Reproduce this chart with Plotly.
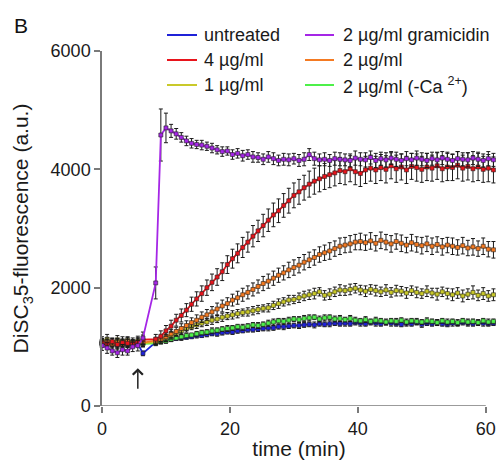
import plotly.graph_objects as go

# ---------------- data ----------------
PRE_TIME = [0.0, 0.8, 1.6, 2.4, 3.2, 4.0, 4.8, 5.6, 6.4]
POST_TIME = [8.4, 9.2, 10.0, 10.8, 11.6, 12.4, 13.2, 14.0, 14.8, 15.6,
             16.4, 17.2, 18.0, 18.8, 19.6, 20.4, 21.2, 22.0, 22.8, 23.6,
             24.4, 25.2, 26.0, 26.8, 27.6, 28.4, 29.2, 30.0, 30.8, 31.6,
             32.4, 33.2, 34.0, 34.8, 35.6, 36.4, 37.2, 38.0, 38.8, 39.6,
             40.4, 41.2, 42.0, 42.8, 43.6, 44.4, 45.2, 46.0, 46.8, 47.6,
             48.4, 49.2, 50.0, 50.8, 51.6, 52.4, 53.2, 54.0, 54.8, 55.6,
             56.4, 57.2, 58.0, 58.8, 59.6, 60.4, 61.2]

UNTREATED_PRE = [1050, 1040, 1060, 1030, 1050, 1040, 1060, 1050, 890]
UNTREATED_POST = [1080, 1100, 1110, 1120, 1140, 1150, 1160, 1170, 1190, 1190,
                  1210, 1220, 1220, 1240, 1250, 1250, 1270, 1270, 1290, 1290,
                  1300, 1310, 1320, 1320, 1340, 1340, 1350, 1360, 1360, 1370,
                  1380, 1370, 1390, 1380, 1390, 1400, 1390, 1400, 1390, 1410,
                  1400, 1390, 1410, 1400, 1390, 1410, 1400, 1390, 1380, 1400,
                  1390, 1410, 1380, 1400, 1390, 1410, 1390, 1380, 1400, 1390,
                  1410, 1400, 1390, 1410, 1400, 1390, 1400]
UNTREATED_ERR = [40, 50, 40, 50, 40, 50, 40, 50, 40,
                 30, 30, 40, 30, 30, 40, 30, 30, 40, 30,
                 40, 30, 40, 40, 30, 40, 40, 30, 40, 40,
                 40, 40, 50, 40, 40, 50, 40, 40, 50, 40,
                 40, 50, 40, 40, 50, 40, 40, 50, 40, 40,
                 50, 40, 40, 50, 40, 40, 50, 40, 40, 50,
                 40, 40, 50, 40, 40, 50, 40, 40, 50, 40,
                 40, 50, 40, 40, 50, 40, 40]

GRAM_PRE = [1020, 980, 930, 900, 950, 930, 1000, 1020, 1150]
GRAM_POST = [2080, 4580, 4700, 4650, 4600, 4540, 4480, 4440, 4420, 4410,
             4390, 4360, 4330, 4300, 4310, 4250, 4270, 4230, 4250, 4210,
             4200, 4170, 4210, 4180, 4150, 4170, 4160, 4180, 4150, 4170,
             4250, 4180, 4160, 4170, 4150, 4180, 4170, 4160, 4150, 4190,
             4170, 4160, 4200, 4150, 4180, 4160, 4190, 4170, 4150, 4180,
             4160, 4190, 4170, 4150, 4180, 4160, 4190, 4170, 4150, 4180,
             4170, 4160, 4190, 4170, 4150, 4180, 4160]
GRAM_ERR = [80, 90, 70, 80, 90, 70, 80, 90, 100,
            270, 440, 250, 110, 90, 80, 80, 80, 70, 80,
            70, 80, 70, 80, 70, 80, 80, 90, 80, 90,
            80, 90, 90, 100, 90, 100, 100, 90, 100, 110,
            100, 110, 100, 110, 100, 110, 110, 100, 110, 120,
            110, 120, 110, 120, 110, 120, 110, 120, 110, 120,
            110, 120, 110, 120, 110, 120, 110, 120, 110, 120,
            110, 120, 110, 120, 110, 120, 110]

C4_PRE = [1080, 1050, 1090, 1040, 1070, 1060, 1050, 1080, 1120]
C4_POST = [1130, 1180, 1270, 1350, 1450, 1530, 1620, 1720, 1810, 1900,
           2000, 2090, 2180, 2270, 2390, 2490, 2580, 2680, 2770, 2870,
           2960, 3050, 3140, 3230, 3300, 3390, 3470, 3560, 3620, 3690,
           3750, 3800, 3840, 3880, 3910, 3940, 3980, 3960, 4010, 3960,
           3930, 3990, 4020, 3990, 4030, 4000, 4060, 4010, 4040, 3990,
           4050, 4030, 4000, 4040, 4020, 4060, 4010, 4040, 4030, 4070,
           4020, 4050, 4010, 4040, 4000, 4020, 3990]
C4_ERR = [60, 70, 60, 80, 60, 70, 60, 70, 80,
          80, 90, 90, 100, 100, 110, 110, 120, 120, 130,
          130, 140, 140, 150, 150, 160, 160, 170, 170, 180,
          180, 190, 190, 200, 200, 200, 210, 210, 210, 210,
          220, 220, 220, 220, 220, 220, 220, 220, 220, 220,
          220, 230, 220, 230, 220, 230, 220, 230, 220, 230,
          220, 230, 220, 230, 220, 230, 220, 230, 220, 230,
          220, 230, 220, 230, 220, 230, 220]

C2_PRE = [1060, 1080, 1040, 1070, 1050, 1090, 1060, 1080, 1070]
C2_POST = [1100, 1120, 1170, 1220, 1260, 1310, 1360, 1410, 1450, 1500,
           1540, 1590, 1640, 1690, 1730, 1790, 1830, 1880, 1920, 1970,
           2020, 2070, 2110, 2160, 2210, 2250, 2300, 2340, 2380, 2430,
           2470, 2510, 2560, 2590, 2620, 2660, 2700, 2720, 2740, 2770,
           2780, 2760, 2790, 2750, 2800, 2770, 2740, 2780, 2750, 2720,
           2760, 2730, 2710, 2740, 2700, 2730, 2690, 2720, 2700, 2680,
           2710, 2670, 2690, 2660, 2700, 2650, 2640]
C2_ERR = [60, 70, 60, 70, 60, 70, 60, 70, 60,
          60, 60, 70, 70, 70, 80, 80, 80, 90, 90,
          90, 90, 100, 100, 100, 100, 110, 110, 110, 110,
          110, 120, 120, 120, 120, 120, 130, 130, 130, 130,
          130, 130, 130, 130, 140, 130, 140, 130, 140, 130,
          140, 130, 140, 130, 140, 130, 140, 130, 140, 130,
          140, 130, 140, 130, 140, 130, 140, 130, 140, 130,
          140, 130, 140, 130, 140, 130, 140]

C1_PRE = [1100, 1130, 1080, 1120, 1090, 1110, 1080, 1100, 1060]
C1_POST = [1080, 1110, 1150, 1190, 1230, 1270, 1310, 1340, 1370, 1400,
           1420, 1450, 1470, 1500, 1520, 1540, 1560, 1580, 1590, 1610,
           1630, 1650, 1660, 1700, 1730, 1760, 1790, 1800, 1830, 1860,
           1880, 1900, 1930, 1870, 1890, 1930, 1960, 1950, 1970, 1990,
           1960, 1940, 1970, 1950, 1930, 1960, 1920, 1950, 1940, 1910,
           1950, 1920, 1900, 1940, 1910, 1890, 1930, 1900, 1880, 1910,
           1860, 1890, 1920, 1870, 1900, 1860, 1880]
C1_ERR = [70, 80, 60, 70, 80, 60, 70, 80, 60,
          50, 50, 60, 60, 50, 60, 60, 50, 60, 60,
          60, 70, 60, 70, 60, 70, 70, 60, 70, 70,
          70, 60, 70, 70, 80, 70, 80, 70, 80, 80,
          80, 90, 70, 80, 90, 80, 90, 80, 90, 80,
          80, 90, 80, 90, 80, 90, 80, 90, 80, 90,
          80, 90, 80, 90, 80, 100, 80, 90, 100, 90,
          100, 90, 110, 90, 100, 90, 100]

NOCA_PRE = [1060, 1090, 1050, 1070, 1080, 1050, 1070, 1060, 1050]
NOCA_POST = [1060, 1080, 1100, 1130, 1150, 1170, 1190, 1200, 1220, 1240,
             1250, 1270, 1280, 1300, 1310, 1320, 1340, 1330, 1350, 1370,
             1360, 1380, 1400, 1420, 1440, 1430, 1450, 1470, 1460, 1480,
             1490, 1500, 1470, 1490, 1500, 1470, 1480, 1460, 1480, 1450,
             1440, 1460, 1430, 1450, 1440, 1420, 1440, 1430, 1450, 1420,
             1440, 1430, 1420, 1440, 1430, 1410, 1440, 1420, 1430, 1410,
             1440, 1420, 1430, 1410, 1440, 1420, 1430]
NOCA_ERR = [50, 40, 50, 40, 50, 40, 50, 40, 50,
            40, 30, 40, 40, 30, 40, 40, 30, 40, 40,
            40, 50, 40, 40, 50, 40, 40, 50, 40, 40,
            50, 40, 50, 50, 40, 50, 50, 40, 50, 50,
            50, 40, 50, 50, 40, 50, 50, 40, 50, 50,
            40, 50, 40, 50, 40, 50, 40, 50, 40, 50,
            40, 50, 40, 50, 40, 50, 40, 50, 40, 50,
            40, 50, 40, 50, 40, 50, 40]

X_TICKS = [0, 20, 40, 60]
Y_TICKS = [0, 2000, 4000, 6000]

FONT = "Liberation Sans, Arial, Helvetica, sans-serif"
AXIS_GREY = "#7a7a7a"
TEXT = "#1a1a1a"

# name, pre, post, err, colour, (legend column, legend row)
series = [
    ("untreated", UNTREATED_PRE, UNTREATED_POST, UNTREATED_ERR, "#1f22d8", (0, 0)),
    ("2 µg/ml (-Ca <sup>2+</sup>)", NOCA_PRE, NOCA_POST, NOCA_ERR, "#4ef04a", (1, 2)),
    ("1 µg/ml", C1_PRE, C1_POST, C1_ERR, "#c9c92a", (0, 2)),
    ("2 µg/ml", C2_PRE, C2_POST, C2_ERR, "#f47a22", (1, 1)),
    ("4 µg/ml", C4_PRE, C4_POST, C4_ERR, "#e8141c", (0, 1)),
    ("2 µg/ml gramicidin", GRAM_PRE, GRAM_POST, GRAM_ERR, "#a526e6", (1, 0)),
]

# plot-area geometry in pixels
W, H = 499, 461
ML, MR, MT, MB = 102, 3, 51, 55
PW, PH = W - ML - MR, H - MT - MB


def px_x(p):
    return (p - ML) / PW


def px_y(p):
    return (H - MB - p) / PH


fig = go.Figure()
time = PRE_TIME + POST_TIME
for name, pre, post, err, color, _cell in series:
    fig.add_trace(go.Scatter(
        x=time, y=pre + post,
        mode="lines+markers", name=name,
        line=dict(color=color, width=1.8),
        marker=dict(size=4, color=color, symbol="square",
                    line=dict(color="#222222", width=0.6)),
        error_y=dict(type="data", array=err, visible=True,
                     color="#1a1a1a", thickness=1, width=2),
        showlegend=False, cliponaxis=False, hoverinfo="skip",
    ))

# legend drawn as a 3x2 grid of line samples + labels
ROW_PX = [35, 60, 85]
COL_LINE_PX = [(167, 197), (305, 334)]
COL_TEXT_PX = [202, 341]
for name, pre, post, err, color, (col, row) in series:
    y = px_y(ROW_PX[row])
    x0, x1 = COL_LINE_PX[col]
    fig.add_shape(type="line", xref="paper", yref="paper",
                  x0=px_x(x0), x1=px_x(x1), y0=y, y1=y,
                  line=dict(color=color, width=2))
    fig.add_annotation(xref="paper", yref="paper", x=px_x(COL_TEXT_PX[col]), y=y,
                       xanchor="left", yanchor="middle", text=name, showarrow=False,
                       font=dict(family=FONT, size=18, color=TEXT))

fig.update_layout(
    width=W, height=H,
    margin=dict(l=ML, r=MR, t=MT, b=MB),
    paper_bgcolor="white", plot_bgcolor="white",
    font=dict(family=FONT, size=18, color=TEXT),
    showlegend=False,
    xaxis=dict(
        range=[0, 61.6], tickvals=X_TICKS, ticktext=[str(v) for v in X_TICKS],
        showline=False, zeroline=False, showgrid=False,
        ticks="outside", ticklen=6, tickwidth=1.5, tickcolor=AXIS_GREY,
        tickfont=dict(family=FONT, size=18, color=TEXT),
        title=dict(text="time (min)", font=dict(family=FONT, size=21, color=TEXT),
                   standoff=3),
        automargin=False,
    ),
    yaxis=dict(
        range=[0, 6000], tickvals=Y_TICKS, ticktext=[str(v) for v in Y_TICKS],
        showline=True, linecolor=AXIS_GREY, linewidth=1.5,
        zeroline=False, showgrid=False,
        ticks="outside", ticklen=6, tickwidth=1.5, tickcolor=AXIS_GREY,
        tickfont=dict(family=FONT, size=18, color=TEXT),
        title=dict(text="DiSC<sub>3</sub>5-fluorescence (a.u.)",
                   font=dict(family=FONT, size=21, color=TEXT), standoff=16),
        automargin=False,
    ),
)

# x axis line ends at the last tick (60)
fig.add_shape(type="line", xref="x", yref="y", x0=0, x1=60, y0=0, y1=0,
              line=dict(color=AXIS_GREY, width=1.5), layer="above")

# addition arrow
fig.add_annotation(x=5.6, y=640, xref="x", yref="y", text="", showarrow=True,
                   ax=0, ay=22, arrowhead=4, arrowsize=1.3, arrowwidth=1.5,
                   arrowcolor="#222222", standoff=0)

# panel label
fig.add_annotation(xref="paper", yref="paper", x=px_x(12), y=px_y(25),
                   xanchor="left", yanchor="middle", text="B", showarrow=False,
                   font=dict(family=FONT, size=21, color="#111111"))

fig.write_html("out.html",
               config={"displayModeBar": False},
               post_script="document.body.style.margin='0px';"
                           "document.body.style.padding='0px';"
                           "document.documentElement.style.overflow='hidden';")
